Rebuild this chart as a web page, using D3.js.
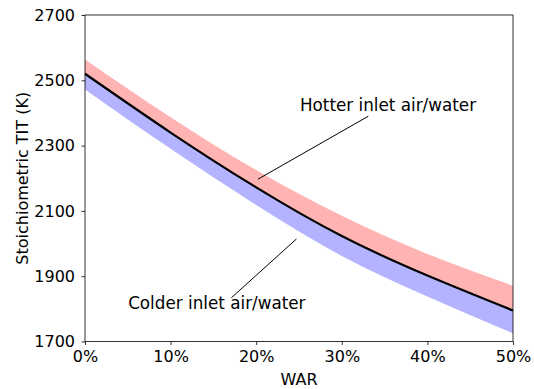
<!DOCTYPE html>
<html>
<head>
<meta charset="utf-8">
<script src="https://cdn.jsdelivr.net/npm/d3@7"></script>
<style>
  html, body { margin: 0; padding: 0; background: #fff; }
  svg { display: block; font-family: "DejaVu Sans", sans-serif; }
</style>
</head>
<body>
<svg id="chart" width="534" height="389"></svg>
<script>
// Water-to-air ratio (fraction) and stoichiometric turbine inlet temperature (K)
const war = [0, 0.10, 0.20, 0.30, 0.40, 0.50];
const titNominal = [2520, 2340, 2172, 2023, 1902, 1795];
const titHotter  = [2564, 2387, 2225, 2085, 1968, 1871];
const titColder  = [2472, 2290, 2118, 1962, 1838, 1725];

const xTicks = [0, 0.1, 0.2, 0.3, 0.4, 0.5];
const yTicks = [1700, 1900, 2100, 2300, 2500, 2700];

const svg = d3.select("#chart");
const margin = { left: 85, right: 21, top: 15, bottom: 47.5 };
const W = 534, H = 389;

const x = d3.scaleLinear().domain([0, 0.5]).range([margin.left, W - margin.right]);
const y = d3.scaleLinear().domain([1700, 2700]).range([H - margin.bottom, margin.top]);

const rows = war.map((w, i) => ({ w, mid: titNominal[i], hot: titHotter[i], cold: titColder[i] }));
const curve = d3.curveNatural;

// Hotter band (above nominal)
svg.append("path")
  .datum(rows)
  .attr("fill", "#ffb3b3")
  .attr("d", d3.area().curve(curve).x(d => x(d.w)).y0(d => y(d.mid)).y1(d => y(d.hot)));

// Colder band (below nominal)
svg.append("path")
  .datum(rows)
  .attr("fill", "#b3b3ff")
  .attr("d", d3.area().curve(curve).x(d => x(d.w)).y0(d => y(d.cold)).y1(d => y(d.mid)));

// Nominal line
svg.append("path")
  .datum(rows)
  .attr("fill", "none")
  .attr("stroke", "#000")
  .attr("stroke-width", 2.2)
  .attr("d", d3.line().curve(curve).x(d => x(d.w)).y(d => y(d.mid)));

// Axes
const xAxis = d3.axisBottom(x).tickValues(xTicks).tickFormat(d3.format(".0%")).tickSizeOuter(0).tickSize(3.5).tickPadding(6);
const yAxis = d3.axisLeft(y).tickValues(yTicks).tickFormat(d3.format("d")).tickSizeOuter(0).tickSize(3.5).tickPadding(6.5);

const gx = svg.append("g").attr("transform", `translate(0,${H - margin.bottom})`).call(xAxis);
const gy = svg.append("g").attr("transform", `translate(${margin.left},0)`).call(yAxis);
[gx, gy].forEach(g => {
  g.selectAll("text").attr("font-size", 16).attr("fill", "#000").attr("font-family", "DejaVu Sans, sans-serif");
  g.selectAll("line").attr("stroke", "#000").attr("stroke-width", 0.8);
  g.select(".domain").remove();
});

// Frame
svg.append("rect")
  .attr("x", margin.left).attr("y", margin.top)
  .attr("width", W - margin.left - margin.right)
  .attr("height", H - margin.top - margin.bottom)
  .attr("fill", "none").attr("stroke", "#000").attr("stroke-width", 0.8);

// Axis titles
svg.append("text")
  .attr("x", (margin.left + W - margin.right) / 2).attr("y", 385)
  .attr("text-anchor", "middle").attr("font-size", 16).text("WAR");
svg.append("text")
  .attr("transform", `translate(27.5,${(margin.top + H - margin.bottom) / 2}) rotate(-90)`)
  .attr("text-anchor", "middle").attr("font-size", 16).text("Stoichiometric TIT (K)");

// Annotations
const notes = [
  { text: "Hotter inlet air/water", tx: 0.354, tt: 2421, from: [0.331, 2390], to: [0.202, 2197] },
  { text: "Colder inlet air/water", tx: 0.154, tt: 1815, from: [0.171, 1834], to: [0.247, 2014] }
];
notes.forEach(n => {
  svg.append("line")
    .attr("x1", x(n.from[0])).attr("y1", y(n.from[1]))
    .attr("x2", x(n.to[0])).attr("y2", y(n.to[1]))
    .attr("stroke", "#000").attr("stroke-width", 1);
  svg.append("text")
    .attr("x", x(n.tx)).attr("y", y(n.tt))
    .attr("text-anchor", "middle").attr("dominant-baseline", "middle")
    .attr("font-size", 16.8).text(n.text);
});
</script>
</body>
</html>
